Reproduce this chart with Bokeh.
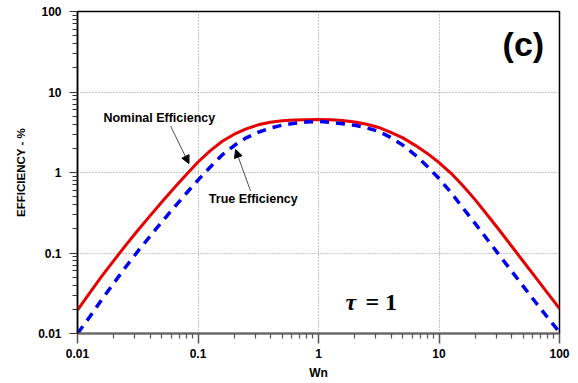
from bokeh.plotting import figure
from bokeh.models import Range1d, FixedTicker, Arrow, NormalHead, Label
from bokeh.embed import file_html
from bokeh.resources import INLINE

# ---- data ----
wn = [0.01, 0.0126, 0.0158, 0.02, 0.0251, 0.0316, 0.0398, 0.0501, 0.0631, 0.0794,
      0.1, 0.126, 0.158, 0.2, 0.251, 0.316, 0.398, 0.501, 0.631, 0.794,
      1, 1.26, 1.58, 2, 2.51, 3.16, 3.98, 5.01, 6.31, 7.94,
      10, 12.6, 15.8, 20, 25.1, 31.6, 39.8, 50.1, 63.1, 79.4, 100]
nominal = [0.0195, 0.0317, 0.0509, 0.0804, 0.1245, 0.190, 0.287, 0.430, 0.638, 0.933,
           1.35, 1.86, 2.43, 2.99, 3.49, 3.91, 4.20, 4.38, 4.48, 4.53,
           4.55, 4.52, 4.42, 4.25, 3.98, 3.63, 3.16, 2.69, 2.19, 1.74,
           1.33, 0.977, 0.684, 0.457, 0.299, 0.193, 0.123, 0.0785, 0.0501, 0.0320, 0.0204]
true_eff = [0.0100, 0.0160, 0.0261, 0.0422, 0.0670, 0.1045, 0.160, 0.243, 0.366, 0.545,
            0.805, 1.164, 1.641, 2.163, 2.692, 3.162, 3.565, 3.873, 4.093, 4.236,
            4.305, 4.188, 4.027, 3.855, 3.589, 3.236, 2.723, 2.188, 1.660, 1.202,
            0.841, 0.562, 0.363, 0.232, 0.148, 0.0944, 0.0603, 0.0385, 0.0246, 0.0159, 0.0104]
major_ticks = [0.01, 0.1, 1, 10, 100]
tick_labels = ["0.01", "0.1", "1", "10", "100"]
minor_ticks = [m * 10.0 ** e for e in range(-2, 2) for m in range(2, 10)]

FONT = "Liberation Sans"

p = figure(width=578, height=383, x_axis_type="log", y_axis_type="log",
           x_range=Range1d(0.01, 100), y_range=Range1d(0.01, 100),
           output_backend="svg", toolbar_location=None,
           min_border_left=77, min_border_right=19, min_border_top=11, min_border_bottom=50)
p.background_fill_color = "white"
p.border_fill_color = "white"
p.outline_line_color = "black"
p.outline_line_width = 1.5

overrides = {t: l for t, l in zip(major_ticks, tick_labels)}
for ax in (p.xaxis[0], p.yaxis[0]):
    ax.ticker = FixedTicker(ticks=major_ticks, minor_ticks=minor_ticks)
    ax.major_label_overrides = overrides
    ax.major_label_text_font = FONT
    ax.major_label_text_font_style = "bold"
    ax.major_label_text_font_size = "12px"
    ax.major_label_text_color = "black"
    ax.axis_label_text_font = FONT
    ax.axis_label_text_font_style = "bold"
    ax.axis_label_text_color = "black"
    ax.major_tick_in = 0
    ax.minor_tick_in = 0

for g in (p.xgrid[0], p.ygrid[0]):
    g.ticker = FixedTicker(ticks=major_ticks)
    g.grid_line_color = "#8a8a8a"
    g.grid_line_dash = "1 2"
    g.grid_line_width = 1

p.xaxis.axis_label = "Wn"
p.xaxis.axis_label_text_font_size = "12px"
p.xaxis.axis_line_color = "#666666"
p.xaxis.axis_line_width = 2
p.xaxis.major_tick_line_color = "#555555"
p.xaxis.minor_tick_line_color = "#555555"
p.xaxis.major_tick_line_width = 1.5
p.xaxis.minor_tick_line_width = 1.2
p.xaxis.major_tick_out = 10
p.xaxis.minor_tick_out = 5
p.xaxis.major_label_standoff = 5
p.xaxis.axis_label_standoff = 5

p.yaxis.axis_label = "EFFICIENCY - %"
p.yaxis.axis_label_text_font_size = "11.5px"
p.yaxis.axis_line_color = "black"
p.yaxis.axis_line_width = 1.5
p.yaxis.major_tick_line_color = "#333333"
p.yaxis.minor_tick_line_color = "#333333"
p.yaxis.major_tick_line_width = 1.2
p.yaxis.minor_tick_line_width = 1
p.yaxis.major_tick_out = 8
p.yaxis.minor_tick_out = 5
p.yaxis.major_label_standoff = 8
p.yaxis.axis_label_standoff = 8

p.line(wn, nominal, line_color="#e60000", line_width=3)
p.line(wn, true_eff, line_color="#0000ee", line_width=3.5, line_dash="9 7")

p.add_layout(Label(x=0.0164, y=4.69, text="Nominal Efficiency", text_font=FONT,
                   text_font_style="bold", text_font_size="12.5px", text_baseline="middle",
                   text_color="black"))
p.add_layout(Label(x=0.123, y=0.47, text="True Efficiency", text_font=FONT,
                   text_font_style="bold", text_font_size="12.5px", text_baseline="middle",
                   text_color="black"))
p.add_layout(Arrow(end=NormalHead(size=8, fill_color="black", line_color="black", line_width=1),
                   x_start=0.0593, y_start=3.76, x_end=0.0841, y_end=1.29,
                   line_color="#222222", line_width=0.8))
p.add_layout(Arrow(end=NormalHead(size=8, fill_color="black", line_color="black", line_width=1),
                   x_start=0.273, y_start=0.59, x_end=0.205, y_end=1.93,
                   line_color="#222222", line_width=0.8))

p.add_layout(Label(x=74.6, y=39.3, text="(c)", text_font=FONT, text_font_style="bold",
                   text_font_size="34px", text_align="right", text_baseline="middle",
                   text_color="black"))
p.add_layout(Label(x=1.675, y=0.0243, text="τ", text_font="Liberation Serif",
                   text_font_style="bold italic", text_font_size="24px",
                   text_baseline="alphabetic", text_color="black"))
p.add_layout(Label(x=2.45, y=0.0243, text="= 1", text_font="Liberation Serif",
                   text_font_style="bold", text_font_size="24px",
                   text_baseline="alphabetic", text_color="black"))

open("out.html", "w").write(file_html(p, INLINE))
